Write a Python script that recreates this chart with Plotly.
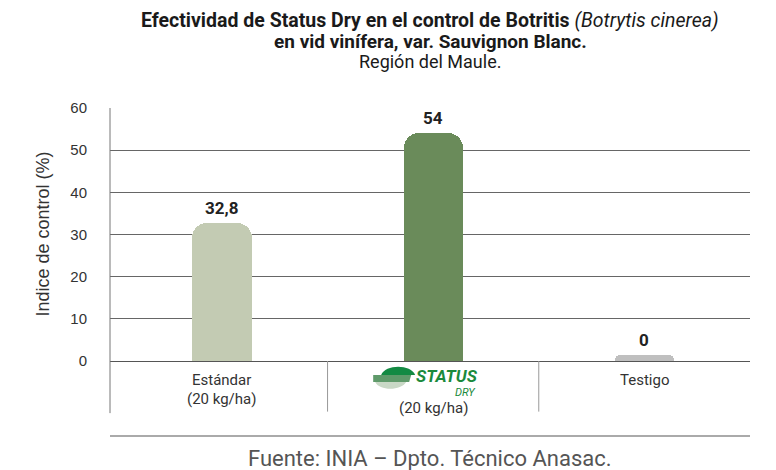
import plotly.graph_objects as go

categories = ["Estándar", "Status Dry", "Testigo"]
values = [32.8, 54, 0]
colors = ["#c3cbb3", "#6a8b5a", "#bfbfbf"]
tick_values = [0, 10, 20, 30, 40, 50, 60]
y_title = "Indice de control (%)"
dose = "(20 kg/ha)"

# zero-valued bars are drawn as a small stub, as in the original chart
min_visible = 1.4
display = [max(v, min_visible) for v in values]
labels = [f"{v:g}".replace(".", ",") for v in values]
xpos = list(range(len(categories)))

fig = go.Figure()
fig.add_trace(go.Bar(
    x=xpos, y=display, width=0.28,
    marker=dict(color=colors, line=dict(width=0), cornerradius=15),
    hoverinfo="skip", showlegend=False,
))

anns = []
for x, d, lab in zip(xpos, display, labels):
    anns.append(dict(x=x, y=d, xref="x", yref="y", text=f"<b>{lab}</b>",
                     showarrow=False, yanchor="bottom", yshift=3,
                     font=dict(family="Roboto", size=17, color="#222")))

tfont_b1 = dict(family="Roboto", size=19.5, color="#1a1a1a")
tfont_b2 = dict(family="Roboto", size=19, color="#1a1a1a")
tfont_r = dict(family="Roboto", size=18, color="#1a1a1a")
anns += [
    dict(x=0.5, y=1, xref="paper", yref="paper", yshift=88, yanchor="middle",
         text="<b>Efectividad de Status Dry en el control de Botritis</b> <i>(Botrytis cinerea)</i>",
         showarrow=False, font=tfont_b1, borderpad=0),
    dict(x=0.5, y=1, xref="paper", yref="paper", yshift=67, yanchor="middle",
         text="<b>en vid vinífera, var. Sauvignon Blanc.</b>",
         showarrow=False, font=tfont_b2, borderpad=0),
    dict(x=0.5, y=1, xref="paper", yref="paper", yshift=47, yanchor="middle",
         text="Región del Maule.",
         showarrow=False, font=tfont_r, borderpad=0),
]

# y axis title
anns.append(dict(x=0, y=0.5, xref="paper", yref="paper", xshift=-68, xanchor="center",
                 yanchor="middle", textangle=-90,
                 text=y_title, showarrow=False,
                 font=dict(family="Liberation Sans", size=18, color="#333")))

# category labels
lab_font = dict(family="Roboto", size=15, color="#333")
anns += [
    dict(x=0, y=0, xref="x", yref="paper", yshift=-19, yanchor="middle",
         text=categories[0], showarrow=False, font=lab_font),
    dict(x=0, y=0, xref="x", yref="paper", yshift=-38, yanchor="middle",
         text=dose, showarrow=False, font=lab_font),
    dict(x=1, y=0, xref="x", yref="paper", yshift=-47, yanchor="middle",
         text=dose, showarrow=False, font=lab_font),
    dict(x=2, y=0, xref="x", yref="paper", yshift=-19, yanchor="middle",
         text=categories[2], showarrow=False, font=lab_font),
    # Status Dry logo text
    dict(x=1, y=0, xref="x", yref="paper", xshift=14, yshift=-15, yanchor="middle",
         text="<b><i>STATUS</i></b>", showarrow=False, borderpad=0,
         font=dict(family="Roboto", size=17, color="#1a8a3c")),
    dict(x=1, y=0, xref="x", yref="paper", xshift=32, yshift=-31, yanchor="middle",
         text="<i>DRY</i>", showarrow=False, borderpad=0,
         font=dict(family="Roboto", size=11, color="#1a8a3c")),
    # source
    dict(x=0.5, y=0, xref="paper", yref="paper", yshift=-97, yanchor="middle",
         text="Fuente: INIA – Dpto. Técnico Anasac.", showarrow=False,
         font=dict(family="Roboto", size=22, color="#555")),
]

shapes = [
    dict(type="line", xref="paper", yref="paper", x0=0, x1=0, y0=-0.206, y1=1,
         line=dict(color="#777", width=1)),
    dict(type="line", xref="x", yref="paper", x0=0.5, x1=0.5, y0=-0.2, y1=0,
         line=dict(color="#999", width=1)),
    dict(type="line", xref="x", yref="paper", x0=1.5, x1=1.5, y0=-0.2, y1=0,
         line=dict(color="#999", width=1)),
    dict(type="line", xref="paper", yref="paper", x0=0, x1=1, y0=-0.296, y1=-0.296,
         line=dict(color="#aaa", width=2)),
    # logo pieces (pixel offsets from category anchor)
    dict(type="path", xref="x", yref="paper", xsizemode="pixel", ysizemode="pixel",
         xanchor=1, yanchor=0,
         path="M -52,-14 C -48,-3 -22,-3 -18,-14 L -16,-14 Z",
         fillcolor="#138a43", line=dict(width=0)),
    dict(type="path", xref="x", yref="paper", xsizemode="pixel", ysizemode="pixel",
         xanchor=1, yanchor=0,
         path="M -60,-14 L -22,-14 L -24,-21 L -60,-21 Z",
         fillcolor="#5f9a6a", line=dict(width=0)),
    dict(type="path", xref="x", yref="paper", xsizemode="pixel", ysizemode="pixel",
         xanchor=1, yanchor=0,
         path="M -58,-21 C -54,-30 -32,-30 -27,-21 Z",
         fillcolor="#c9d8c6", line=dict(width=0)),
]

# figure is 8px smaller than the window to compensate the page's body margin
fig.update_layout(
    width=768, height=462,
    margin=dict(l=102, r=26, t=100, b=109),
    paper_bgcolor="white", plot_bgcolor="white",
    bargap=0,
    xaxis=dict(range=[-0.53, 2.5], showticklabels=False, showgrid=False,
               zeroline=False, showline=False, ticks=""),
    yaxis=dict(range=[0, 60], tickvals=tick_values, showgrid=True,
               gridcolor="#666", gridwidth=1, zeroline=True, zerolinecolor="#555",
               zerolinewidth=1, showline=False, ticks="",
               ticklabelstandoff=22,
               tickfont=dict(family="Liberation Sans", size=15, color="#333")),
    annotations=anns, shapes=shapes,
)

fig.write_html("out.html")
